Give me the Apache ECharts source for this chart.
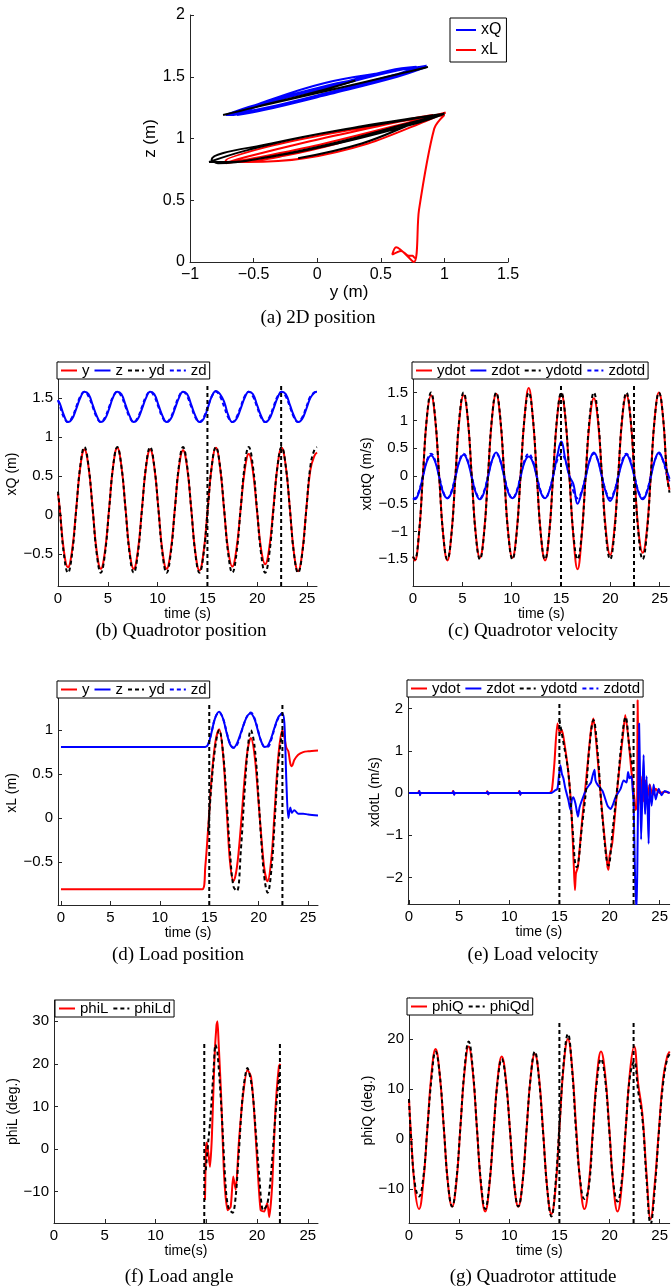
<!DOCTYPE html>
<html><head><meta charset="utf-8">
<script src="https://cdn.jsdelivr.net/npm/echarts@6/dist/echarts.min.js"></script>
<style>html,body{margin:0;padding:0;background:#fff}#c{width:671px;height:1288px}</style>
</head><body><div id="c"></div>
<script>
// ---------- (b),(c),(g): common time base ----------
const tB = [0, 0.18, 0.59, 1.0, 1.41, 1.83, 2.24, 2.65, 3.06, 3.48, 3.89, 4.3, 4.71, 5.13, 5.54, 5.95, 6.36, 6.78, 7.19, 7.6, 8.01, 8.43, 8.84, 9.25, 9.66, 10.08, 10.49, 10.9, 11.31, 11.73, 12.14, 12.55, 12.96, 13.38, 13.79, 14.2, 14.61, 15.03, 15.44, 15.85, 16.26, 16.68, 17.09, 17.5, 17.91, 18.33, 18.74, 19.15, 19.56, 19.98, 20.39, 20.8, 21.21, 21.63, 22.04, 22.45, 22.86, 23.28, 23.69, 24.1, 24.51, 24.93, 25.34, 25.75, 26.0];
// (b) quadrotor position
const yQ = [0.27, 0.08, -0.46,
  -0.67, -0.46, 0.08, 0.62, 0.84, 0.62, 0.08, -0.47,
  -0.69, -0.47, 0.08, 0.63, 0.86, 0.63, 0.08, -0.47,
  -0.69, -0.47, 0.08, 0.62, 0.84, 0.62, 0.08, -0.47,
  -0.69, -0.47, 0.08, 0.61, 0.83, 0.61, 0.07, -0.48,
  -0.71, -0.48, 0.08, 0.63, 0.86, 0.62, 0.06, -0.46,
  -0.66, -0.44, 0.07, 0.57, 0.78, 0.57, 0.05, -0.44,
  -0.63, -0.42, 0.1, 0.63, 0.86, 0.63, 0.08, -0.49,
  -0.72, -0.49, 0.08, 0.58, 0.76, 0.80];
const ydQ = [0.30, 0.07, -0.50,
  -0.74, -0.50, 0.07, 0.63, 0.87, 0.63, 0.07, -0.50,
  -0.74, -0.50, 0.07, 0.63, 0.87, 0.63, 0.07, -0.50,
  -0.74, -0.50, 0.07, 0.63, 0.87, 0.63, 0.07, -0.50,
  -0.74, -0.50, 0.07, 0.63, 0.87, 0.63, 0.07, -0.50,
  -0.74, -0.50, 0.07, 0.63, 0.87, 0.63, 0.07, -0.50,
  -0.74, -0.50, 0.07, 0.63, 0.87, 0.63, 0.07, -0.50,
  -0.74, -0.50, 0.07, 0.63, 0.87, 0.63, 0.07, -0.50,
  -0.74, -0.50, 0.07, 0.63, 0.84, 0.87];
const zQ = [1.47, 1.43, 1.28,
  1.19, 1.23, 1.36, 1.50, 1.58, 1.55, 1.41, 1.27,
  1.19, 1.23, 1.36, 1.51, 1.58, 1.55, 1.41, 1.27,
  1.19, 1.23, 1.36, 1.50, 1.58, 1.55, 1.41, 1.27,
  1.19, 1.23, 1.36, 1.50, 1.58, 1.55, 1.41, 1.27,
  1.19, 1.23, 1.37, 1.52, 1.59, 1.55, 1.45, 1.28,
  1.19, 1.23, 1.36, 1.50, 1.58, 1.55, 1.41, 1.27,
  1.19, 1.23, 1.36, 1.50, 1.58, 1.55, 1.41, 1.27,
  1.19, 1.23, 1.36, 1.50, 1.57, 1.58];
const zdQ = [1.47, 1.40, 1.25,
  1.19, 1.25, 1.385, 1.52, 1.58, 1.52, 1.385, 1.25,
  1.19, 1.25, 1.385, 1.52, 1.58, 1.52, 1.385, 1.25,
  1.19, 1.25, 1.385, 1.52, 1.58, 1.52, 1.385, 1.25,
  1.19, 1.25, 1.385, 1.52, 1.58, 1.52, 1.385, 1.25,
  1.19, 1.25, 1.385, 1.52, 1.58, 1.52, 1.385, 1.25,
  1.19, 1.25, 1.385, 1.52, 1.58, 1.52, 1.385, 1.25,
  1.19, 1.25, 1.385, 1.52, 1.58, 1.52, 1.385, 1.25,
  1.19, 1.25, 1.385, 1.52, 1.57, 1.58];
// (c) quadrotor velocity
const ydotQ = [-1.45, -1.52, -1.08,
  0.0, 1.06, 1.45, 1.04, 0.0, -1.06, -1.52, -1.06,
  0.0, 1.04, 1.45, 1.04, 0.0, -1.04, -1.47, -1.04,
  0.0, 1.04, 1.48, 1.04, 0.0, -1.04, -1.47, -1.04,
  0.0, 1.06, 1.58, 1.06, 0.0, -1.06, -1.52, -1.06,
  0.0, 1.05, 1.48, 1.05, 0.0, -1.1, -1.68, -1.1,
  0.0, 1.0, 1.40, 1.0, 0.0, -1.0, -1.42, -1.0,
  0.0, 1.04, 1.45, 1.04, 0.0, -1.0, -1.38, -1.0,
  0.0, 1.06, 1.50, 1.06, 0.0, -0.25];
const ydotdQ = [-1.45, -1.5, -1.06,
  0, 1.06, 1.5, 1.06, 0, -1.06, -1.5, -1.06,
  0, 1.06, 1.5, 1.06, 0, -1.06, -1.5, -1.06,
  0, 1.06, 1.5, 1.06, 0, -1.06, -1.5, -1.06,
  0, 1.06, 1.5, 1.06, 0, -1.06, -1.5, -1.06,
  0, 1.06, 1.5, 1.06, 0, -1.06, -1.5, -1.06,
  0, 1.06, 1.5, 1.06, 0, -1.06, -1.5, -1.06,
  0, 1.06, 1.5, 1.06, 0, -1.06, -1.5, -1.06,
  0, 1.06, 1.5, 1.06, 0, -0.3];
const zdotQ = [-0.40, -0.42, -0.30,
  -0.02, 0.26, 0.37, 0.26, -0.02, -0.30, -0.40, -0.30,
  -0.02, 0.26, 0.38, 0.26, -0.02, -0.30, -0.42, -0.30,
  -0.02, 0.28, 0.42, 0.28, -0.02, -0.30, -0.40, -0.30,
  -0.02, 0.25, 0.35, 0.25, -0.02, -0.30, -0.40, -0.28,
  0.0, 0.35, 0.62, 0.30, 0.0, -0.15, -0.50, -0.30,
  -0.02, 0.28, 0.42, 0.28, -0.02, -0.30, -0.45, -0.30,
  -0.02, 0.25, 0.38, 0.25, -0.02, -0.30, -0.42, -0.30,
  -0.02, 0.28, 0.42, 0.28, 0.08, -0.05];
const zdotdQ = [-0.4, -0.4, -0.28,
  0, 0.28, 0.4, 0.28, 0, -0.28, -0.4, -0.28,
  0, 0.28, 0.4, 0.28, 0, -0.28, -0.4, -0.28,
  0, 0.28, 0.4, 0.28, 0, -0.28, -0.4, -0.28,
  0, 0.28, 0.4, 0.28, 0, -0.28, -0.4, -0.28,
  0, 0.28, 0.4, 0.28, 0, -0.28, -0.4, -0.28,
  0, 0.28, 0.4, 0.28, 0, -0.28, -0.4, -0.28,
  0, 0.28, 0.4, 0.28, 0, -0.28, -0.4, -0.28,
  0, 0.28, 0.4, 0.28, 0, -0.1];
// (g) quadrotor attitude
const phiQ = [8, 1.5, -10,
  -14, -9, 2, 13, 18, 13, 2, -9,
  -13.5, -9, 2.5, 13.5, 18.5, 13.5, 2, -9.5,
  -14.5, -9.5, 1.5, 12, 16.5, 12, 1.5, -9,
  -13.5, -9, 2, 12.5, 17, 12.5, 1.5, -10,
  -15, -10, 3, 15, 20, 14.5, 2, -9,
  -14, -9.5, 1.5, 12.5, 17.5, 13, 2, -9.5,
  -14.5, -9.5, 2.5, 13.5, 18.5, 11, 5, -7,
  -16, -9, 2, 12, 16.5, 17.5];
const phiQd = [8, 1, -9,
  -11.5, -8, 2, 12, 17.5, 13, 2, -9,
  -13.5, -8.5, 2.5, 14, 19.5, 14, 2, -9,
  -14, -9, 1.5, 11.5, 16, 11.5, 1.5, -9,
  -13.5, -9, 2, 12.5, 17.5, 12, 1, -10,
  -15.5, -9, 3.5, 15.5, 21, 14, 1, -8.5,
  -12, -10, 1, 11.5, 16, 12, 1.5, -9,
  -12.5, -8.5, 2.5, 12.5, 15.5, 9.5, 4, -8,
  -17, -10, 1.5, 11, 16, 17];

// ---------- (d) load position ----------
const tD = [0, 14.3, 14.6, 14.9, 15.2, 15.6, 16.0, 16.4, 16.8, 17.1, 17.45, 17.8, 18.2, 18.6, 18.9, 19.2, 19.6, 20.0, 20.3, 20.6, 20.9, 21.3, 21.6, 22.0, 22.4, 22.6, 22.8, 23.0, 23.2, 23.35, 23.6, 24.0, 24.5, 25.0, 26.0];
const yL = [-0.81, -0.81, -0.55, -0.1, 0.4, 0.85, 1.01, 0.72, 0.02, -0.5, -0.72, -0.56, -0.09, 0.48, 0.79, 0.91, 0.70, 0.16, -0.26, -0.6, -0.72, -0.44, 0.05, 0.72, 1.0, 0.92, 0.80, 0.76, 0.62, 0.59, 0.66, 0.72, 0.75, 0.76, 0.77];
const zL = [0.81, 0.81, 0.81, 0.84, 0.96, 1.14, 1.21, 1.13, 0.95, 0.84, 0.80, 0.85, 0.97, 1.10, 1.17, 1.19, 1.12, 0.96, 0.86, 0.81, 0.82, 0.92, 1.03, 1.15, 1.19, 1.08, 0.42, 0.0, 0.12, 0.06, 0.09, 0.05, 0.05, 0.04, 0.03];
const tLd = [14.9, 15.2, 15.6, 16.0, 16.4, 16.8, 17.1, 17.45, 17.8, 18.2, 18.6, 18.9, 19.2, 19.6, 20.0, 20.3, 20.6, 20.9, 21.3, 21.6, 22.0, 22.4];
const yLd = [-0.15, 0.35, 0.8, 1.0, 0.74, 0.12, -0.39, -0.78, -0.83, -0.36, 0.35, 0.79, 1.0, 0.80, 0.2, -0.32, -0.70, -0.85, -0.57, -0.07, 0.64, 1.0];
const zLd = [0.84, 0.96, 1.14, 1.2, 1.13, 0.96, 0.85, 0.80, 0.83, 0.96, 1.10, 1.17, 1.2, 1.13, 0.97, 0.86, 0.81, 0.81, 0.9, 1.02, 1.14, 1.2];

// ---------- (e) load velocity [t, value] ----------
const ydotL = [[0,0],[0.9,0],[1.0,0.05],[1.1,-0.04],[1.2,0],[4.3,0],[4.4,0.05],[4.5,-0.03],[4.6,0],[7.7,0],[7.8,0.04],[7.9,-0.03],[8.0,0],[10.9,0],[11.0,0.05],[11.1,-0.04],[11.2,0],[14.0,0],[14.25,0.07],[14.5,0.7],[14.8,1.65],[15.06,1.41],[15.25,1.5],[15.55,1.1],[15.9,0.47],[16.2,-0.4],[16.45,-1.8],[16.55,-2.3],[16.65,-1.9],[16.85,-1.75],[17.3,-0.56],[17.66,0.3],[17.9,0.9],[18.15,1.49],[18.4,1.77],[18.8,0.86],[19.3,-0.56],[19.8,-1.75],[19.9,-1.82],[20.0,-1.5],[20.27,-1.19],[20.76,0.07],[21.1,0.86],[21.35,1.4],[21.57,1.85],[21.9,1.26],[22.2,0.47],[22.5,-0.17],[22.6,-0.4],[22.75,-0.3],[22.8,2.2],[22.9,0.5],[22.95,0.15],[23.1,-0.3],[23.25,0.4],[23.4,-0.2],[23.6,0.3],[23.8,-0.1],[24.0,0.2],[24.3,-0.05],[24.6,0.1],[25.0,0.0],[25.5,0.03],[26,0]];
const zdotL = [[0,0],[1.0,0],[1.05,0.05],[1.1,-0.05],[1.15,0],[4.4,0],[4.45,0.04],[4.5,-0.04],[4.55,0],[7.8,0],[7.85,0.03],[7.9,-0.03],[7.95,0],[11.0,0],[11.05,0.04],[11.1,-0.04],[11.15,0],[14.2,0],[14.5,0.05],[14.8,0.1],[14.95,0.4],[15.1,0.66],[15.25,0.45],[15.4,0.35],[15.6,0.1],[15.9,-0.17],[16.1,-0.4],[16.25,-0.15],[16.4,-0.1],[16.6,-0.25],[16.75,-0.45],[16.85,-0.56],[17.0,-0.35],[17.2,-0.2],[17.7,0.1],[18.15,0.25],[18.3,0.4],[18.5,0.55],[18.6,0.3],[18.8,0.2],[19.3,0.05],[19.8,-0.3],[20.1,-0.38],[20.3,-0.3],[20.6,-0.1],[21.1,0.1],[21.4,0.3],[21.7,0.25],[21.85,0.5],[22.0,0.35],[22.2,0.4],[22.3,0.1],[22.4,-0.2],[22.55,-2.0],[22.7,-2.8],[22.8,-1.2],[22.95,1.65],[23.05,0.3],[23.15,-1.1],[23.3,0.2],[23.4,0.9],[23.5,-0.2],[23.55,-0.5],[23.7,0.4],[23.9,-1.2],[24.0,0.2],[24.2,-0.3],[24.4,0.2],[24.6,-0.15],[24.9,0.1],[25.2,-0.05],[25.5,0.05],[26,0]];
const ydotLd = [[15.0,1.73],[15.4,1.2],[15.9,0.47],[16.3,-0.8],[16.7,-1.75],[16.85,-1.72],[17.2,-0.9],[17.66,0.08],[18.0,1.1],[18.4,1.73],[18.8,1.0],[19.3,-0.6],[19.9,-1.72],[20.3,-0.9],[20.8,0.2],[21.2,1.2],[21.6,1.8],[22.0,1.05],[22.4,0.5]];

// ---------- (f) load angle [t, deg] ----------
const phiL = [[14.87,-12],[14.97,0.5],[15.05,1.5],[15.2,-1],[15.36,-4.2],[15.55,2.9],[15.8,21],[16.0,29],[16.1,30],[16.2,25.6],[16.45,13],[16.76,-6.5],[17.1,-14.4],[17.4,-13.6],[17.65,-6.5],[17.9,-9.6],[18.2,1.3],[18.6,12.3],[19.05,18.6],[19.4,17],[19.7,9.2],[20.0,-2.6],[20.35,-14.4],[20.7,-14.7],[21.0,-12.7],[21.2,-16],[21.5,-8],[21.8,9],[22.15,19.4],[22.3,20]];
const phiLd = [[14.95,-5],[15.2,2],[15.4,7],[15.75,20],[15.9,24.5],[16.1,22.6],[16.5,9],[16.93,-9.6],[17.2,-14],[17.6,-15],[17.9,-11],[18.2,-1],[18.6,13],[19.05,19],[19.5,14.5],[19.85,4.7],[20.2,-6],[20.6,-14.4],[21.0,-13],[21.35,-6.5],[21.8,7.6],[22.2,17.7],[22.35,18.5]];

// switching instants (vertical dashed markers)
const vlines = [15, 22.4];
const vlinesF = [14.8, 22.25];

// tick labels
const ticksA_x = [-1, -0.5, 0, 0.5, 1, 1.5];
const ticksA_y = [0, 0.5, 1, 1.5, 2];
const ticksT = [0, 5, 10, 15, 20, 25];
const ticksB = [-0.5, 0, 0.5, 1, 1.5];
const ticksC = [-1.5, -1, -0.5, 0, 0.5, 1, 1.5];
const ticksD = [-0.5, 0, 0.5, 1];
const ticksE = [-2, -1, 0, 1, 2];
const ticksF = [-10, 0, 10, 20, 30];
const ticksG = [-10, 0, 10, 20];

// ---------- build ----------
const zip = (a, b) => a.map((x, i) => [x, b[i]]);
const SANS = "'Liberation Sans', Arial, sans-serif";
const SERIF = "'Liberation Serif', 'Times New Roman', serif";
const AX = '#262626';
const fmt = v => (v < 0 ? '\u2212' + Math.abs(v) : String(v));

const grids = [
  {left: 190, top: 15, width: 318, height: 247},
  {left: 58, top: 362, width: 259, height: 224},
  {left: 413, top: 362, width: 260, height: 224},
  {left: 58, top: 681, width: 260, height: 224},
  {left: 408, top: 680, width: 267, height: 224},
  {left: 54, top: 1000, width: 264, height: 223},
  {left: 409, top: 998, width: 264, height: 225}
];

function axis(gi, min, max, ticks, name, gap, fs, nfs) {
  return {
    type: 'value', gridIndex: gi, min: min, max: max, scale: true,
    splitLine: {show: false},
    axisLine: {show: true, onZero: false, lineStyle: {color: AX, width: 1}},
    axisTick: {show: true, inside: true, length: 4, customValues: ticks, lineStyle: {color: AX}},
    axisLabel: {customValues: ticks, formatter: fmt, color: '#000', fontSize: fs, fontFamily: SANS, margin: 5},
    name: name, nameLocation: 'middle', nameGap: gap,
    nameTextStyle: {color: '#000', fontSize: nfs, fontFamily: SANS}
  };
}

const xAxes = [
  axis(0, -1, 1.5, ticksA_x, 'y (m)', 20, 16, 17),
  axis(1, 0, 26, ticksT, 'time (s)', 18, 15, 14),
  axis(2, 0, 26, ticksT, 'time (s)', 18, 15, 14),
  axis(3, -0.3, 26, ticksT, 'time (s)', 18, 15, 14),
  axis(4, -0.1, 26, ticksT, 'time (s)', 18, 15, 14),
  axis(5, 0, 26, ticksT, 'time(s)', 18, 15, 14),
  axis(6, 0, 26, ticksT, 'time (s)', 18, 15, 14)
];
const yAxes = [
  axis(0, 0, 2, ticksA_y, 'z (m)', 18, 16, 17),
  axis(1, -0.91, 1.96, ticksB, 'xQ (m)', 29, 15, 14),
  axis(2, -1.98, 2.05, ticksC, 'xdotQ (m/s)', 30, 15, 14),
  axis(3, -0.99, 1.56, ticksD, 'xL (m)', 29, 15, 14),
  axis(4, -2.63, 2.68, ticksE, 'xdotL (m/s)', 23, 15, 14),
  axis(5, -17.4, 35, ticksF, 'phiL (deg.)', 29, 15, 14),
  axis(6, -16.8, 28.2, ticksG, 'phiQ (deg.)', 27, 15, 14)
];

const RED = '#ff0000', BLUE = '#0000ff', BLACK = '#000000';
function line(name, gi, data, color, dashed, smooth, z) {
  return {
    type: 'line', name: name, xAxisIndex: gi, yAxisIndex: gi, data: data,
    symbol: 'none', showSymbol: false, smooth: smooth, animation: false,
    lineStyle: {color: color, width: 2, type: dashed ? [4, 3] : 'solid'},
    itemStyle: {color: color}, z: z || 2, clip: true
  };
}
function vline(gi, x, y0, y1) {
  return {type: 'line', name: '_v', xAxisIndex: gi, yAxisIndex: gi, data: [[x, y0], [x, y1]],
    symbol: 'none', silent: true, animation: false,
    lineStyle: {color: BLACK, width: 2, type: [4, 3]}, z: 3};
}

const series = [
  // (a)
  line('xQ', 0, zip(yQ, zQ), BLUE, false, 0.4, 2),
  line('xL', 0, zip(yL, zL), RED, false, 0.3, 2),
  line('_xQd', 0, zip(ydQ, zdQ), BLACK, false, 0.4, 3),
  line('_xLd', 0, zip(yLd, zLd), BLACK, false, 0.4, 3),
  // (b)
  line('y', 1, zip(tB, yQ), RED, false, 0.45),
  line('z', 1, zip(tB, zQ), BLUE, false, 0.45),
  line('yd', 1, zip(tB, ydQ), BLACK, true, 0.45, 3),
  line('zd', 1, zip(tB, zdQ), BLUE, true, 0.45, 1),
  vline(1, vlines[0], -0.91, 1.67), vline(1, vlines[1], -0.91, 1.67),
  // (c)
  line('ydot', 2, zip(tB, ydotQ), RED, false, 0.45),
  line('zdot', 2, zip(tB, zdotQ), BLUE, false, 0.45),
  line('ydotd', 2, zip(tB, ydotdQ), BLACK, true, 0.45, 3),
  line('zdotd', 2, zip(tB, zdotdQ), BLUE, true, 0.45, 1),
  vline(2, vlines[0], -1.98, 1.64), vline(2, vlines[1], -1.98, 1.64),
  // (d)
  line('y', 3, zip(tD, yL), RED, false, 0.35),
  line('z', 3, zip(tD, zL), BLUE, false, 0.3),
  line('yd', 3, zip(tLd, yLd), BLACK, true, 0.4, 3),
  line('zd', 3, zip(tLd, zLd), BLUE, true, 0.4, 1),
  vline(3, vlines[0], -0.99, 1.31), vline(3, vlines[1], -0.99, 1.31),
  // (e)
  line('ydot', 4, ydotL, RED, false, 0.2),
  line('zdot', 4, zdotL, BLUE, false, 0.2),
  line('ydotd', 4, ydotLd, BLACK, true, 0.4, 3),
  line('zdotd', 4, [], BLUE, true, 0.4, 1),
  vline(4, vlines[0], -2.63, 2.15), vline(4, vlines[1], -2.63, 2.15),
  // (f)
  line('phiL', 5, phiL, RED, false, 0.2),
  line('phiLd', 5, phiLd, BLACK, true, 0.3, 3),
  vline(5, vlinesF[0], -17.4, 25), vline(5, vlinesF[1], -17.4, 25),
  // (g)
  line('phiQ', 6, zip(tB, phiQ), RED, false, 0.45),
  line('phiQd', 6, zip(tB, phiQd), BLACK, true, 0.45, 3),
  vline(6, vlines[0], -16.8, 23.8), vline(6, vlines[1], -16.8, 23.8)
];

function legend(data, left, top, orient, fs) {
  return {
    data: data, left: left, top: top, orient: orient || 'horizontal',
    itemWidth: 16, itemHeight: 10, itemGap: 4,
    padding: orient === 'vertical' ? [4, 5, 4, 5] : [1, 3, 1, 3],
    borderColor: '#000', borderWidth: 1, borderRadius: 0, backgroundColor: '#fff',
    selectedMode: false, z: 10,
    itemStyle: {color: 'rgba(0,0,0,0)', borderColor: 'rgba(0,0,0,0)', borderWidth: 0, opacity: 0},
    textStyle: {color: '#000', fontSize: fs || 15, fontFamily: SANS}
  };
}
const legends = [
  Object.assign(legend(['xQ', 'xL'], 450, 18, 'vertical', 16), {itemWidth: 20}),
  legend(['y', 'z', 'yd', 'zd'], 57, 362),
  legend(['ydot', 'zdot', 'ydotd', 'zdotd'], 412, 362),
  legend(['y', 'z', 'yd', 'zd'], 57, 681),
  legend(['ydot', 'zdot', 'ydotd', 'zdotd'], 407, 680),
  legend(['phiL', 'phiLd'], 55, 1000),
  legend(['phiQ', 'phiQd'], 407, 998)
];

const captions = [
  ['(a) 2D position', 318, 318],
  ['(b) Quadrotor position', 181, 631],
  ['(c) Quadrotor velocity', 533, 631],
  ['(d) Load position', 178, 955],
  ['(e) Load velocity', 533, 955],
  ['(f) Load angle', 179, 1277],
  ['(g) Quadrotor attitude', 533, 1277]
];
const graphic = captions.map(c => ({
  type: 'text', x: c[1], y: c[2], silent: true,
  style: {text: c[0], fill: '#000', font: '19px ' + SERIF, align: 'center', verticalAlign: 'middle'}
}));

const chart = echarts.init(document.getElementById('c'), null, {renderer: 'canvas'});
chart.setOption({
  animation: false,
  backgroundColor: '#fff',
  grid: grids,
  xAxis: xAxes,
  yAxis: yAxes,
  legend: legends,
  series: series,
  graphic: graphic
});
</script></body></html>
